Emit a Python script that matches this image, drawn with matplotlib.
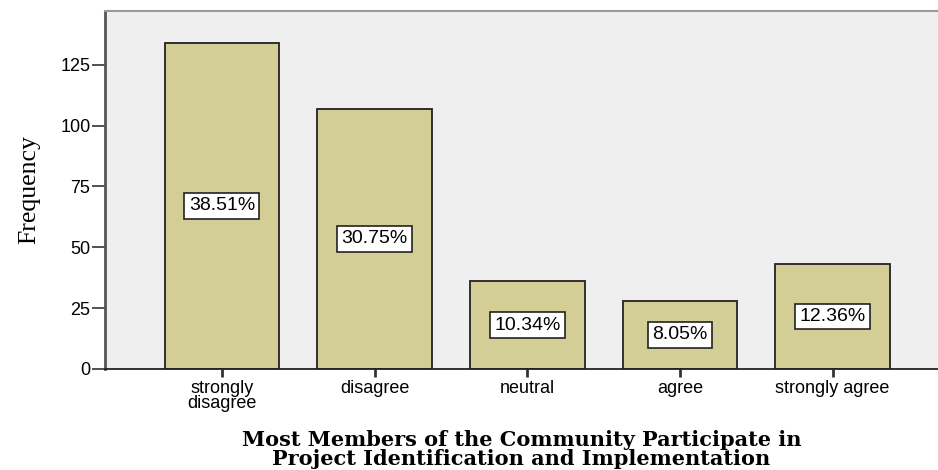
import numpy as np
import matplotlib.pyplot as plt

# Answer categories and counts
categories = ['strongly\ndisagree', 'disagree', 'neutral', 'agree', 'strongly agree']
counts = [134, 107, 36, 28, 43]
percents = ['38.51%', '30.75%', '10.34%', '8.05%', '12.36%']

fig = plt.figure(figsize=(9.38, 4.7), dpi=100)
ax = fig.add_axes([0.112, 0.215, 0.888, 0.762])
ax.set_facecolor('#efefef')

x = np.arange(len(categories))
ax.bar(x, counts, width=0.75, color='#d2ce96', edgecolor='#222222', linewidth=1.3, zorder=2)

# percentage boxes in the middle of each bar
for xi, c, p in zip(x, counts, percents):
    ax.text(xi, c / 2, p, ha='center', va='center', fontsize=14,
            family='Liberation Sans', zorder=3,
            bbox=dict(boxstyle='square,pad=0.22', facecolor='white',
                      edgecolor='#222222', linewidth=1.2))

ax.set_xlim(-0.765, 4.69)
ax.set_ylim(0, 147.2)
ax.set_yticks([0, 25, 50, 75, 100, 125])
ax.set_xticks(x)
ax.set_xticklabels(categories, fontsize=13, family='Liberation Sans', linespacing=0.85)
ax.tick_params(axis='y', labelsize=13, length=9.5, width=1.2, color='#333333', pad=1)
ax.tick_params(axis='x', length=6, width=2, color='#333333', pad=2)
for lbl in ax.get_yticklabels():
    lbl.set_family('Liberation Sans')

ax.spines['right'].set_visible(False)
ax.spines['top'].set_color('#999999')
ax.spines['top'].set_linewidth(1.5)
ax.spines['left'].set_color('#555555')
ax.spines['left'].set_linewidth(2)
ax.spines['bottom'].set_color('#222222')
ax.spines['bottom'].set_linewidth(1.3)

ax.set_ylabel('Frequency', fontsize=18.5, family='Liberation Serif', labelpad=14)
ax.set_xlabel('Most Members of the Community Participate in\nProject Identification and Implementation',
              fontsize=15, family='DejaVu Serif', fontweight='bold', labelpad=13,
              linespacing=0.9)

plt.savefig('out.png')
